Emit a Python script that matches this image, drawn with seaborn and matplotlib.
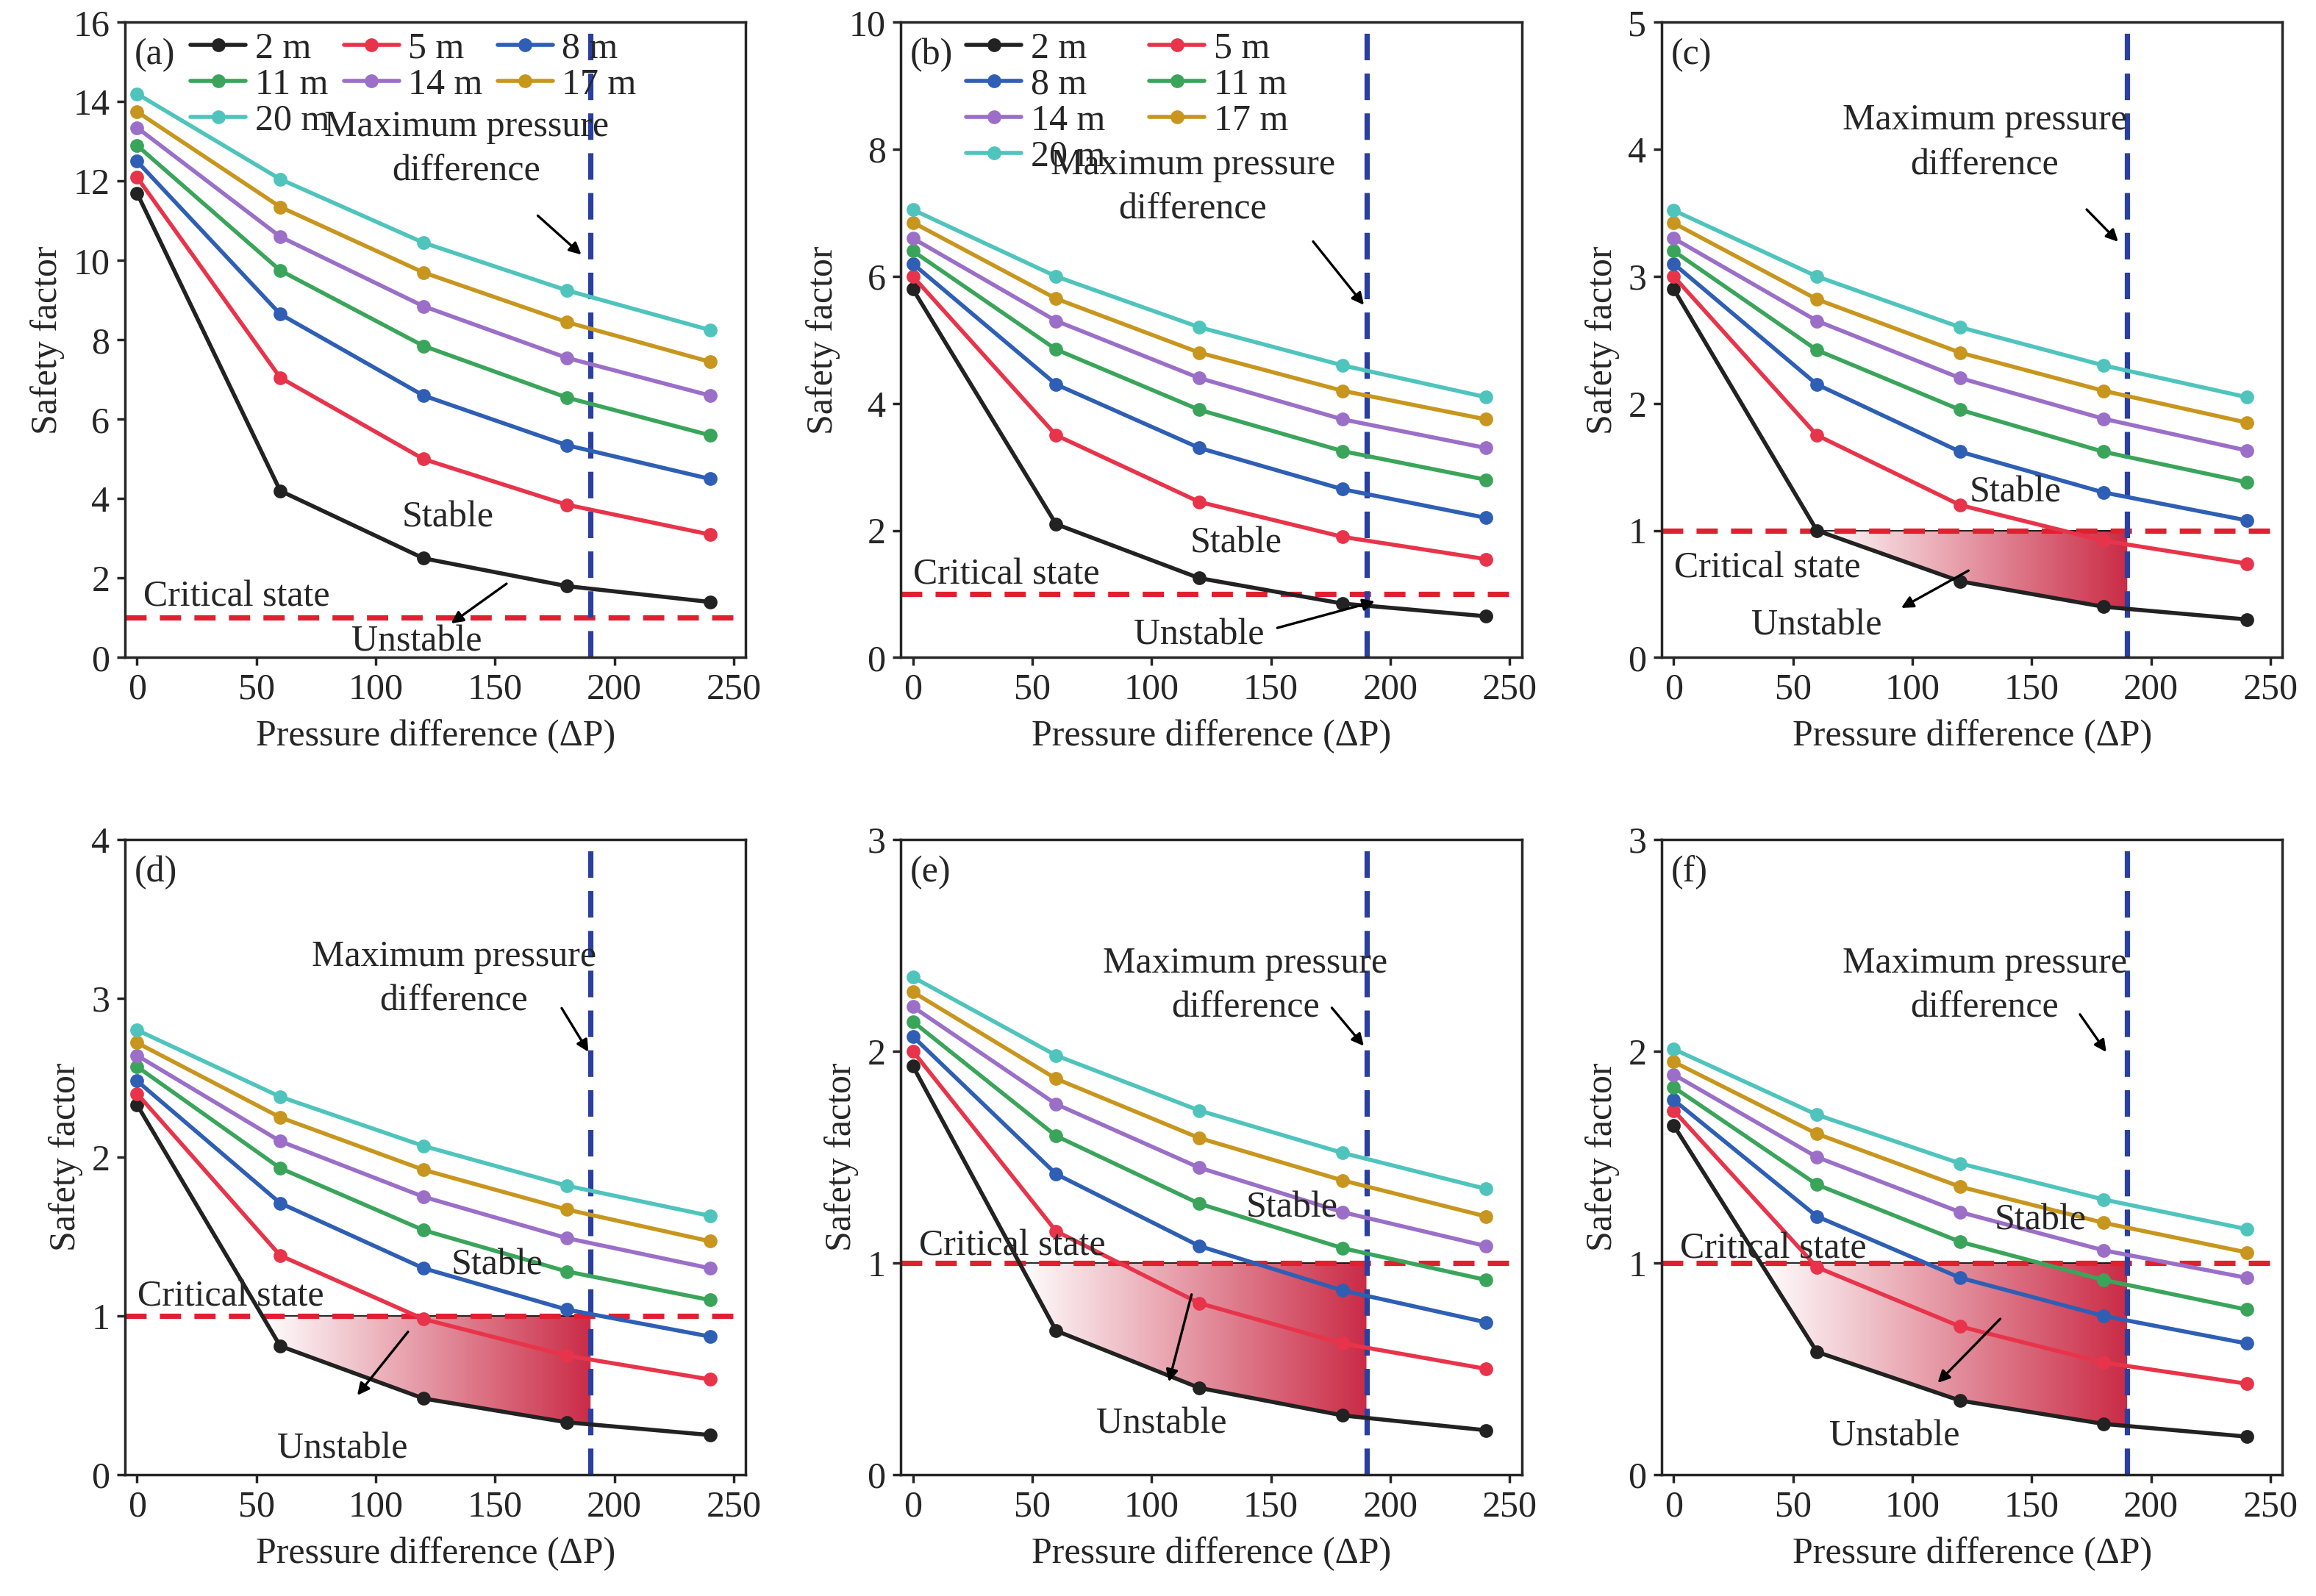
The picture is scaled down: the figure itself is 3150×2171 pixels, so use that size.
import numpy as np
import pandas as pd
import matplotlib
matplotlib.use("Agg")
import matplotlib.pyplot as plt
import seaborn as sns
from matplotlib.colors import LinearSegmentedColormap
from matplotlib.patches import Polygon

sns.set_theme(style="ticks")
plt.rcParams['font.family'] = ['Liberation Serif', 'DejaVu Serif']
plt.rcParams['mathtext.fontset'] = 'stix'

# pressure difference (x) and burial depths (series)
pressure = [0, 60, 120, 180, 240]
depths = ["2 m", "5 m", "8 m", "11 m", "14 m", "17 m", "20 m"]
colors = ["#222222", "#e8344a", "#2e5fb5", "#3aa55a", "#9b6fc8", "#c8961e", "#4fc4bd"]

sf_a = [[11.7, 4.2, 2.5, 1.8, 1.4],
        [12.1, 7.05, 5.0, 3.85, 3.1],
        [12.5, 8.65, 6.6, 5.35, 4.5],
        [12.9, 9.75, 7.85, 6.55, 5.6],
        [13.35, 10.6, 8.85, 7.55, 6.6],
        [13.75, 11.35, 9.7, 8.45, 7.45],
        [14.2, 12.05, 10.45, 9.25, 8.25]]
sf_b = [[5.8, 2.1, 1.25, 0.85, 0.65],
        [6.0, 3.5, 2.45, 1.9, 1.55],
        [6.2, 4.3, 3.3, 2.65, 2.2],
        [6.4, 4.85, 3.9, 3.25, 2.8],
        [6.6, 5.3, 4.4, 3.75, 3.3],
        [6.85, 5.65, 4.8, 4.2, 3.75],
        [7.05, 6.0, 5.2, 4.6, 4.1]]
sf_c = [[2.9, 1.0, 0.6, 0.4, 0.3],
        [3.0, 1.75, 1.2, 0.92, 0.74],
        [3.1, 2.15, 1.62, 1.3, 1.08],
        [3.2, 2.42, 1.95, 1.62, 1.38],
        [3.3, 2.65, 2.2, 1.88, 1.63],
        [3.42, 2.82, 2.4, 2.1, 1.85],
        [3.52, 3.0, 2.6, 2.3, 2.05]]
sf_d = [[2.33, 0.81, 0.48, 0.33, 0.25],
        [2.4, 1.38, 0.98, 0.75, 0.6],
        [2.48, 1.71, 1.3, 1.04, 0.87],
        [2.57, 1.93, 1.54, 1.28, 1.1],
        [2.64, 2.1, 1.75, 1.49, 1.3],
        [2.72, 2.25, 1.92, 1.67, 1.47],
        [2.8, 2.38, 2.07, 1.82, 1.63]]
sf_e = [[1.93, 0.68, 0.41, 0.28, 0.21],
        [2.0, 1.15, 0.81, 0.62, 0.5],
        [2.07, 1.42, 1.08, 0.87, 0.72],
        [2.14, 1.6, 1.28, 1.07, 0.92],
        [2.21, 1.75, 1.45, 1.24, 1.08],
        [2.28, 1.87, 1.59, 1.39, 1.22],
        [2.35, 1.98, 1.72, 1.52, 1.35]]
sf_f = [[1.65, 0.58, 0.35, 0.24, 0.18],
        [1.72, 0.98, 0.7, 0.53, 0.43],
        [1.77, 1.22, 0.93, 0.75, 0.62],
        [1.83, 1.37, 1.1, 0.92, 0.78],
        [1.89, 1.5, 1.24, 1.06, 0.93],
        [1.95, 1.61, 1.36, 1.19, 1.05],
        [2.01, 1.7, 1.47, 1.3, 1.16]]

panels = ["(a)", "(b)", "(c)", "(d)", "(e)", "(f)"]
all_sf = [sf_a, sf_b, sf_c, sf_d, sf_e, sf_f]
ymax = [16, 10, 5, 4, 3, 3]
yticks = [np.arange(0, 17, 2), np.arange(0, 11, 2), np.arange(0, 6, 1),
          np.arange(0, 5, 1), np.arange(0, 4, 1), np.arange(0, 4, 1)]
max_dp = 190
critical = 1.0

# annotation layout (axes fraction)
notes = [
    dict(mp=(0.55, 0.80), mpa=((0.66, 0.70), (0.74, 0.63)), st=(0.52, 0.22), cr=(0.18, 0.095),
         un=(0.47, 0.025), una=((0.62, 0.12), (0.52, 0.05))),
    dict(mp=(0.47, 0.74), mpa=((0.66, 0.66), (0.75, 0.55)), st=(0.54, 0.18), cr=(0.17, 0.13),
         un=(0.48, 0.035), una=((0.60, 0.045), (0.77, 0.09))),
    dict(mp=(0.52, 0.81), mpa=((0.68, 0.71), (0.74, 0.65)), st=(0.57, 0.26), cr=(0.17, 0.14),
         un=(0.25, 0.05), una=((0.50, 0.14), (0.38, 0.075))),
    dict(mp=(0.53, 0.78), mpa=((0.70, 0.74), (0.75, 0.66)), st=(0.60, 0.33), cr=(0.17, 0.28),
         un=(0.35, 0.04), una=((0.46, 0.23), (0.37, 0.12))),
    dict(mp=(0.555, 0.77), mpa=((0.69, 0.74), (0.75, 0.67)), st=(0.63, 0.42), cr=(0.18, 0.36),
         un=(0.42, 0.08), una=((0.47, 0.29), (0.43, 0.14))),
    dict(mp=(0.52, 0.77), mpa=((0.67, 0.73), (0.72, 0.66)), st=(0.61, 0.40), cr=(0.18, 0.355),
         un=(0.375, 0.06), una=((0.55, 0.25), (0.44, 0.14))),
]

lefts = [0.054, 0.389, 0.7175]
bottoms = [0.588, 0.076]
fs = 18
grad = LinearSegmentedColormap.from_list("g", ["#ffffff", "#c8203c"])

fig = plt.figure(figsize=(15.75, 10.855), dpi=200)
for i in range(6):
    ax = fig.add_axes([lefts[i % 3], bottoms[i // 3], 0.268, 0.398])
    sf = all_sf[i]
    for j, d in enumerate(depths):
        sns.lineplot(x=pressure, y=sf[j], color=colors[j], marker="o", markersize=6,
                     markeredgecolor=colors[j], linewidth=2, label=d, ax=ax)
    ax.set_xlim(-5, 255)
    ax.set_ylim(0, ymax[i])
    ax.set_xticks([0, 50, 100, 150, 200, 250])
    ax.set_yticks(yticks[i])
    ax.tick_params(labelsize=fs, direction="out", length=4)
    ax.set_xlabel("Pressure difference (ΔP)", fontsize=fs, labelpad=6)
    ax.set_ylabel("Safety factor", fontsize=fs, labelpad=4)
    ax.axhline(critical, color="#e02030", ls=(0, (4, 2.5)), lw=2.6, zorder=1)
    ax.axvline(max_dp, color="#2a3fa0", ls=(0, (5, 2.5)), lw=2.6, zorder=1)
    ax.text(0.015, 0.975, panels[i], transform=ax.transAxes, fontsize=fs, va="top")

    # unstable gradient zone between the 2 m curve and the critical line
    if i >= 2:
        xs = np.linspace(0, max_dp, 400)
        low = np.interp(xs, pressure, sf[0])
        m = low <= critical
        x0 = xs[m][0]
        poly = list(zip(xs[m], low[m])) + [(max_dp, critical), (x0, critical)]
        patch = Polygon(poly, closed=True, facecolor="none", edgecolor="none")
        ax.add_patch(patch)
        img = ax.imshow(np.linspace(0, 1, 256)[None, :], cmap=grad, aspect="auto",
                        extent=[x0, max_dp, 0, critical], zorder=0.5, alpha=0.95)
        img.set_clip_path(patch)
        ax.plot([x0, max_dp], [critical, critical], color="black", lw=0.6, zorder=0.6)
        ax.set_xlim(-5, 255)
        ax.set_ylim(0, ymax[i])

    n = notes[i]
    ax.text(*n["mp"], "Maximum pressure\ndifference", transform=ax.transAxes, fontsize=fs,
            ha="center", va="center", linespacing=1.4)
    ax.annotate("", xy=n["mpa"][1], xytext=n["mpa"][0], xycoords="axes fraction",
                arrowprops=dict(arrowstyle="-|>", color="black", lw=1.2))
    ax.text(*n["st"], "Stable", transform=ax.transAxes, fontsize=fs, ha="center", va="center")
    ax.text(*n["cr"], "Critical state", transform=ax.transAxes, fontsize=fs, ha="center", va="center")
    ax.text(*n["un"], "Unstable", transform=ax.transAxes, fontsize=fs, ha="center", va="center")
    ax.annotate("", xy=n["una"][1], xytext=n["una"][0], xycoords="axes fraction",
                arrowprops=dict(arrowstyle="-|>", color="black", lw=1.2))

    handles, labels = ax.get_legend_handles_labels()
    if i == 0:
        order = [0, 3, 6, 1, 4, 2, 5]
        ax.legend([handles[k] for k in order], [labels[k] for k in order],
                  loc="upper left", bbox_to_anchor=(0.07, 1.02), ncol=3, fontsize=fs, frameon=False,
                  handlelength=1.5, handletextpad=0.25, columnspacing=0.4, labelspacing=0.05,
                  borderaxespad=0.2)
    elif i == 1:
        order = [0, 2, 4, 6, 1, 3, 5]
        ax.legend([handles[k] for k in order], [labels[k] for k in order],
                  loc="upper left", bbox_to_anchor=(0.07, 1.02), ncol=2, fontsize=fs, frameon=False,
                  handlelength=1.5, handletextpad=0.25, columnspacing=1.2, labelspacing=0.05,
                  borderaxespad=0.2)
    else:
        ax.get_legend().remove()

fig.savefig("out.png", dpi=200)
